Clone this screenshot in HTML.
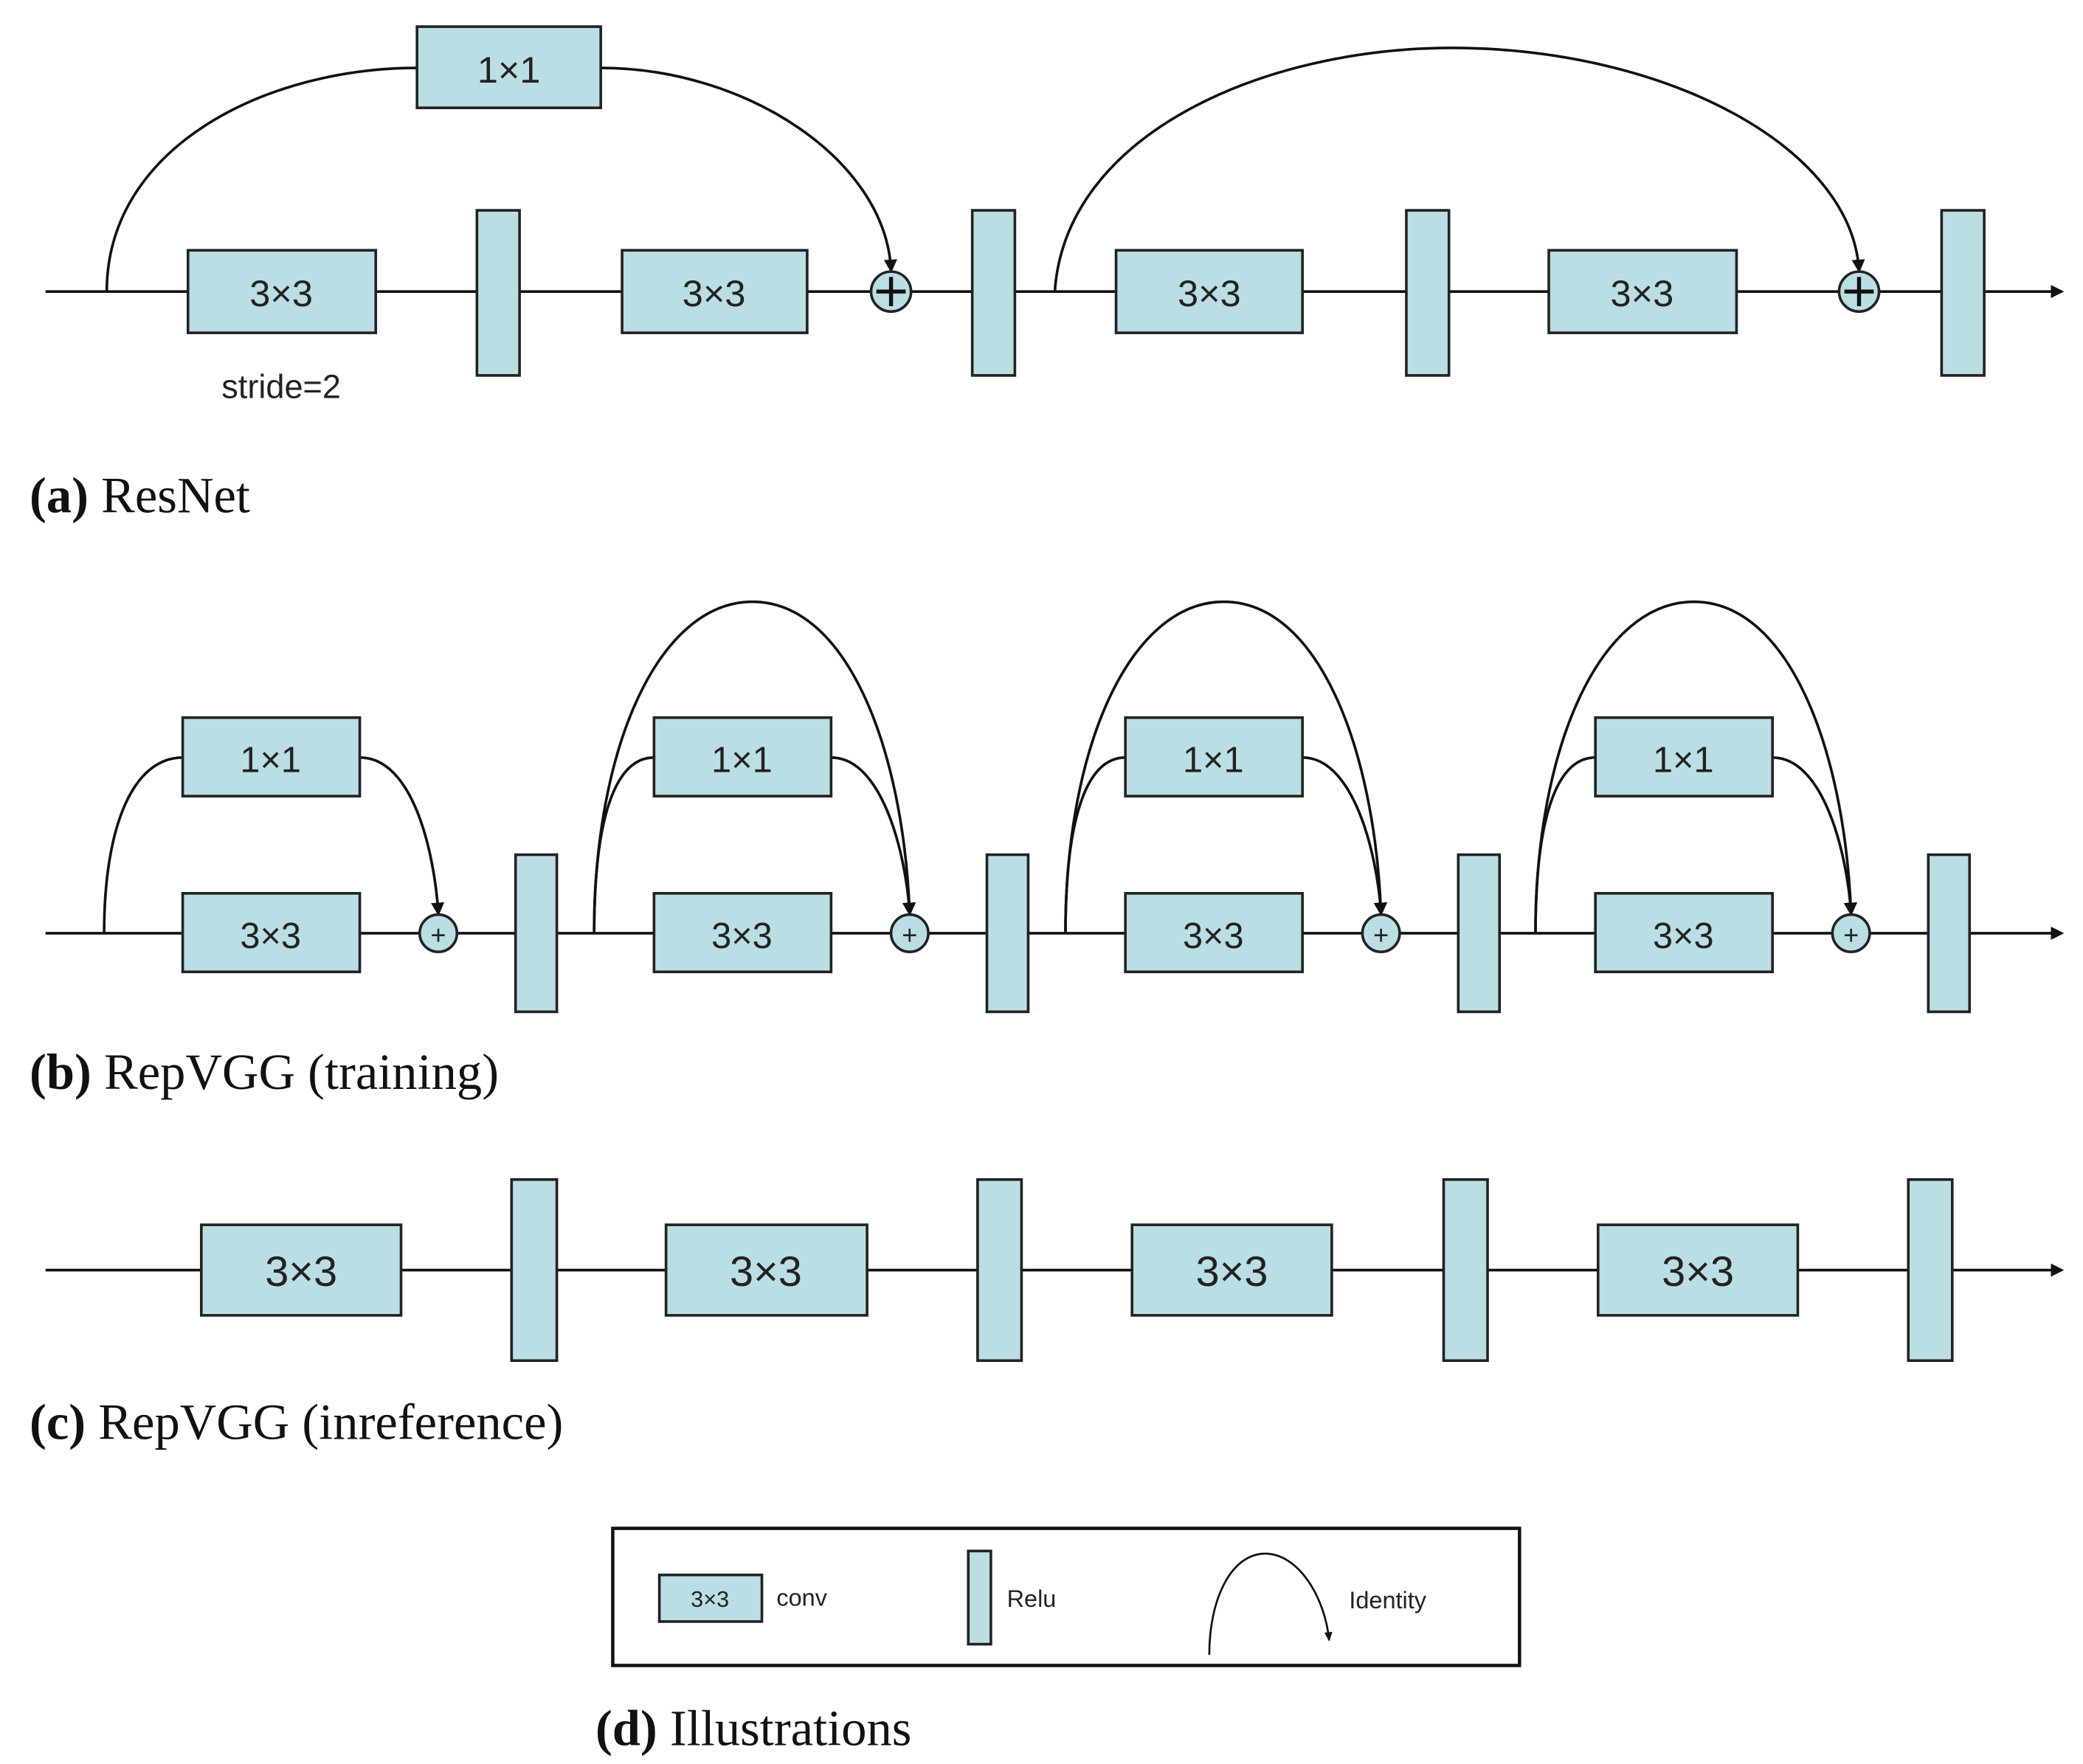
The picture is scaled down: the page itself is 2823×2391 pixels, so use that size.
<!DOCTYPE html>
<html><head><meta charset="utf-8"><style>
html,body{margin:0;padding:0;background:#fff}
svg{display:block}
.b{fill:#badee3;stroke:#222;stroke-width:2}
.l{fill:none;stroke:#111;stroke-width:2}
.t{font-family:"Liberation Sans",sans-serif;fill:#222;text-anchor:middle}
.c{font-family:"Liberation Serif",serif;font-size:38px;fill:#111}
</style></head><body>
<svg width="2823" height="2391" viewBox="0 0 1564 1325" xmlns="http://www.w3.org/2000/svg">
<defs>
<marker id="a" markerWidth="10" markerHeight="10" refX="8" refY="5" orient="auto" markerUnits="userSpaceOnUse"><path d="M0,0 L10,5 L0,10 z" fill="#111"/></marker>
<marker id="s" markerWidth="8" markerHeight="8" refX="6" refY="4" orient="auto" markerUnits="userSpaceOnUse"><path d="M0,1 L7,4 L0,7 z" fill="#111"/></marker>
</defs>

<!-- (a) ResNet -->
<line class="l" x1="34" y1="219" x2="1548" y2="219" marker-end="url(#a)"/>
<path class="l" d="M80,219 C80,110 200,51 313,51"/>
<path class="l" d="M451,51 C560,51 665,120 669,203" marker-end="url(#a)"/>
<path class="l" d="M792,219 C800,100 950,36 1090,36 C1250,36 1390,110 1396,203" marker-end="url(#a)"/>
<rect class="b" x="313" y="20" width="138" height="61"/><text class="t" x="382" y="62" font-size="28">1×1</text>
<rect class="b" x="141" y="188" width="141" height="62"/><text class="t" x="211" y="230" font-size="28">3×3</text>
<rect class="b" x="358" y="158" width="32" height="124"/>
<rect class="b" x="467" y="188" width="139" height="62"/><text class="t" x="536" y="230" font-size="28">3×3</text>
<circle class="b" cx="669" cy="219" r="15"/><path d="M669,208 V230 M658,219 H680" stroke="#111" stroke-width="3"/>
<rect class="b" x="730" y="158" width="32" height="124"/>
<rect class="b" x="838" y="188" width="140" height="62"/><text class="t" x="908" y="230" font-size="28">3×3</text>
<rect class="b" x="1056" y="158" width="32" height="124"/>
<rect class="b" x="1163" y="188" width="141" height="62"/><text class="t" x="1233" y="230" font-size="28">3×3</text>
<circle class="b" cx="1396" cy="219" r="15"/><path d="M1396,208 V230 M1385,219 H1407" stroke="#111" stroke-width="3"/>
<rect class="b" x="1458" y="158" width="32" height="124"/>
<text class="t" x="211" y="299" font-size="25">stride=2</text>
<text class="c" x="22" y="385"><tspan font-weight="bold">(a)</tspan> ResNet</text>

<!-- (b) RepVGG training -->
<line class="l" x1="34" y1="701" x2="1548" y2="701" marker-end="url(#a)"/>
<path class="l" d="M78,701 C78,620 100,569 137,569"/>
<path class="l" d="M270,569 C310,569 326,640 329,686" marker-end="url(#a)"/>
<rect class="b" x="137" y="539" width="133" height="59"/><text class="t" x="203" y="580" font-size="27">1×1</text>
<rect class="b" x="137" y="671" width="133" height="59"/><text class="t" x="203" y="712" font-size="27">3×3</text>
<circle class="b" cx="329" cy="701" r="14"/><text class="t" x="329" y="709" font-size="20">+</text>
<rect class="b" x="387" y="642" width="31" height="118"/>

<g>
<path class="l" d="M446,701 C446,620 460,569 491,569"/>
<path class="l" d="M624,569 C662,569 680,640 683,686" marker-end="url(#a)"/>
<path class="l" d="M446,701 C446,560 495,452 565,452 C635,452 678,560 683,686" marker-end="url(#a)"/>
<rect class="b" x="491" y="539" width="133" height="59"/><text class="t" x="557" y="580" font-size="27">1×1</text>
<rect class="b" x="491" y="671" width="133" height="59"/><text class="t" x="557" y="712" font-size="27">3×3</text>
<circle class="b" cx="683" cy="701" r="14"/><text class="t" x="683" y="709" font-size="20">+</text>
<rect class="b" x="741" y="642" width="31" height="118"/>
</g>
<g transform="translate(354,0)">
<path class="l" d="M446,701 C446,620 460,569 491,569"/>
<path class="l" d="M624,569 C662,569 680,640 683,686" marker-end="url(#a)"/>
<path class="l" d="M446,701 C446,560 495,452 565,452 C635,452 678,560 683,686" marker-end="url(#a)"/>
<rect class="b" x="491" y="539" width="133" height="59"/><text class="t" x="557" y="580" font-size="27">1×1</text>
<rect class="b" x="491" y="671" width="133" height="59"/><text class="t" x="557" y="712" font-size="27">3×3</text>
<circle class="b" cx="683" cy="701" r="14"/><text class="t" x="683" y="709" font-size="20">+</text>
<rect class="b" x="741" y="642" width="31" height="118"/>
</g>
<g transform="translate(707,0)">
<path class="l" d="M446,701 C446,620 460,569 491,569"/>
<path class="l" d="M624,569 C662,569 680,640 683,686" marker-end="url(#a)"/>
<path class="l" d="M446,701 C446,560 495,452 565,452 C635,452 678,560 683,686" marker-end="url(#a)"/>
<rect class="b" x="491" y="539" width="133" height="59"/><text class="t" x="557" y="580" font-size="27">1×1</text>
<rect class="b" x="491" y="671" width="133" height="59"/><text class="t" x="557" y="712" font-size="27">3×3</text>
<circle class="b" cx="683" cy="701" r="14"/><text class="t" x="683" y="709" font-size="20">+</text>
<rect class="b" x="741" y="642" width="31" height="118"/>
</g>
<text class="c" x="22" y="818"><tspan font-weight="bold">(b)</tspan> RepVGG (training)</text>

<!-- (c) RepVGG inference -->
<line class="l" x1="34" y1="954" x2="1548" y2="954" marker-end="url(#a)"/>
<rect class="b" x="151" y="920" width="150" height="68"/><text class="t" x="226" y="966" font-size="32">3×3</text>
<rect class="b" x="384" y="886" width="34" height="136"/>
<rect class="b" x="500" y="920" width="151" height="68"/><text class="t" x="575" y="966" font-size="32">3×3</text>
<rect class="b" x="734" y="886" width="33" height="136"/>
<rect class="b" x="850" y="920" width="150" height="68"/><text class="t" x="925" y="966" font-size="32">3×3</text>
<rect class="b" x="1084" y="886" width="33" height="136"/>
<rect class="b" x="1200" y="920" width="150" height="68"/><text class="t" x="1275" y="966" font-size="32">3×3</text>
<rect class="b" x="1433" y="886" width="33" height="136"/>
<text class="c" x="22" y="1081"><tspan font-weight="bold">(c)</tspan> RepVGG (inreference)</text>

<!-- (d) legend -->
<rect x="460" y="1148" width="681" height="103" fill="#fff" stroke="#111" stroke-width="2.5"/>
<rect class="b" x="495" y="1183" width="77" height="35"/><text class="t" x="533" y="1207" font-size="17">3×3</text>
<text x="583" y="1206" font-family="Liberation Sans,sans-serif" font-size="18" fill="#222">conv</text>
<rect class="b" x="727" y="1165" width="17" height="70"/>
<text x="756" y="1207" font-family="Liberation Sans,sans-serif" font-size="18" fill="#222">Relu</text>
<path d="M908,1243 C908,1200 925,1167 950,1167 C975,1167 995,1200 998,1232" fill="none" stroke="#111" stroke-width="1.5" marker-end="url(#s)"/>
<text x="1013" y="1208" font-family="Liberation Sans,sans-serif" font-size="18" fill="#222">Identity</text>
<text class="c" x="447" y="1311"><tspan font-weight="bold">(d)</tspan> Illustrations</text>
</svg>
</body></html>
